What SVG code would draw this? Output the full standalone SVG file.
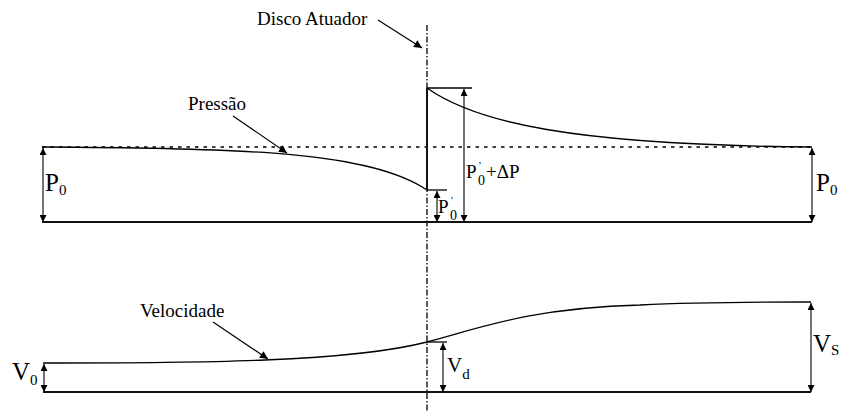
<svg xmlns="http://www.w3.org/2000/svg" width="843" height="412" viewBox="0 0 843 412">
  <style>
    .ln { stroke: #000; fill: none; stroke-width: 1.3; }
    .frame { stroke: #111; fill: none; stroke-width: 2; }
    .dot { stroke: #000; fill: none; stroke-width: 1.3; stroke-dasharray: 3.5 5; }
    .axis { stroke: #000; fill: none; stroke-width: 1.3; stroke-dasharray: 6 2 1.5 2; }
    .dim { stroke: #000; fill: none; stroke-width: 1.1; marker-start: url(#ah); marker-end: url(#ah); }
    .lead { stroke: #000; fill: none; stroke-width: 1.2; marker-end: url(#ah2); }
    text { font-family: 'Liberation Serif', 'DejaVu Serif', serif; fill: #000; }
    .lbl { font-size: 19px; }
    .big { font-size: 25px; }
    .mid { font-size: 21px; }
    .sub { font-size: 15px; }
    .sub2 { font-size: 14px; }
    .pr { font-size: 11px; }
  </style>
  <defs>
    <marker id="ah" viewBox="0 0 10 10" refX="10" refY="5" markerWidth="7" markerHeight="7" markerUnits="userSpaceOnUse" orient="auto-start-reverse">
      <path d="M0,0 L10,5 L0,10 z" fill="#000"/>
    </marker>
    <marker id="ah2" viewBox="0 0 10 10" refX="10" refY="5" markerWidth="9" markerHeight="8" markerUnits="userSpaceOnUse" orient="auto">
      <path d="M0,0 L10,5 L0,10 z" fill="#000"/>
    </marker>
  </defs>

  <g id="disk-axis">
    <line class="axis" x1="427" y1="25" x2="427" y2="412"/>
  </g>

  <g id="pressure-section">
    <line class="dot" x1="42" y1="147" x2="812" y2="147"/>
    <line class="frame" x1="42" y1="222" x2="812" y2="222"/>
    <path id="pressure-curve-left" class="ln" d="M42,147 C250,148 370,152 427,190"/>
    <line class="frame" x1="427" y1="88" x2="427" y2="190"/>
    <path id="pressure-curve-right" class="ln" d="M427,88 C475,122 570,145 812,147"/>
    <line class="ln" x1="427" y1="88" x2="472" y2="88"/>
    <line class="ln" x1="427" y1="190" x2="447" y2="190"/>
  </g>

  <g id="velocity-section">
    <line class="frame" x1="43" y1="392" x2="811" y2="392"/>
    <path id="velocity-curve" class="ln" d="M43,363 C200,363 350,362 427,342 C480,328 530,308 640,305 C690,302.5 760,302 811,302"/>
    <line class="ln" x1="427" y1="342" x2="447" y2="342"/>
  </g>

  <g id="connectors">
    <line class="dim" x1="43" y1="148" x2="43" y2="222"/>
    <line class="dim" x1="812" y1="148" x2="812" y2="222"/>
    <line class="dim" x1="464" y1="89" x2="464" y2="222"/>
    <line class="dim" x1="437" y1="191" x2="437" y2="222"/>
    <line class="dim" x1="44" y1="364" x2="44" y2="392"/>
    <line class="dim" x1="443" y1="343" x2="443" y2="392"/>
    <line class="dim" x1="811" y1="303" x2="811" y2="392"/>
    <line class="lead" x1="378" y1="20" x2="422" y2="48"/>
    <line class="lead" x1="233" y1="116" x2="287" y2="153"/>
    <line class="lead" x1="213" y1="322" x2="268" y2="359"/>
  </g>

  <g id="label-disco">
    <text class="lbl" x="257" y="25">Disco Atuador</text>
  </g>
  <g id="label-pressao">
    <text class="lbl" x="188" y="110">Pressão</text>
  </g>
  <g id="label-velocidade">
    <text class="lbl" x="140" y="317">Velocidade</text>
  </g>

  <g id="label-p0-left">
    <text class="big" x="45" y="191">P<tspan class="sub" dy="4">0</tspan></text>
  </g>
  <g id="label-p0-right">
    <text class="big" x="816" y="191">P<tspan class="sub" dy="4">0</tspan></text>
  </g>
  <g id="label-p0prime-dp">
    <text class="lbl" x="466" y="178">P<tspan class="pr" x="479" y="169">'</tspan><tspan class="sub2" x="478" y="185">0</tspan><tspan x="486" y="178">+ΔP</tspan></text>
  </g>
  <g id="label-p0prime">
    <text class="lbl" x="438" y="213">P<tspan class="pr" x="451" y="204">'</tspan><tspan class="sub2" x="450" y="220">0</tspan></text>
  </g>

  <g id="label-v0">
    <text class="big" x="12" y="380">V<tspan class="sub" dy="5">0</tspan></text>
  </g>
  <g id="label-vd">
    <text class="mid" x="447" y="372">V<tspan class="sub" dy="7">d</tspan></text>
  </g>
  <g id="label-vs">
    <text class="big" x="813" y="352">V<tspan class="sub" dy="3">S</tspan></text>
  </g>
</svg>
